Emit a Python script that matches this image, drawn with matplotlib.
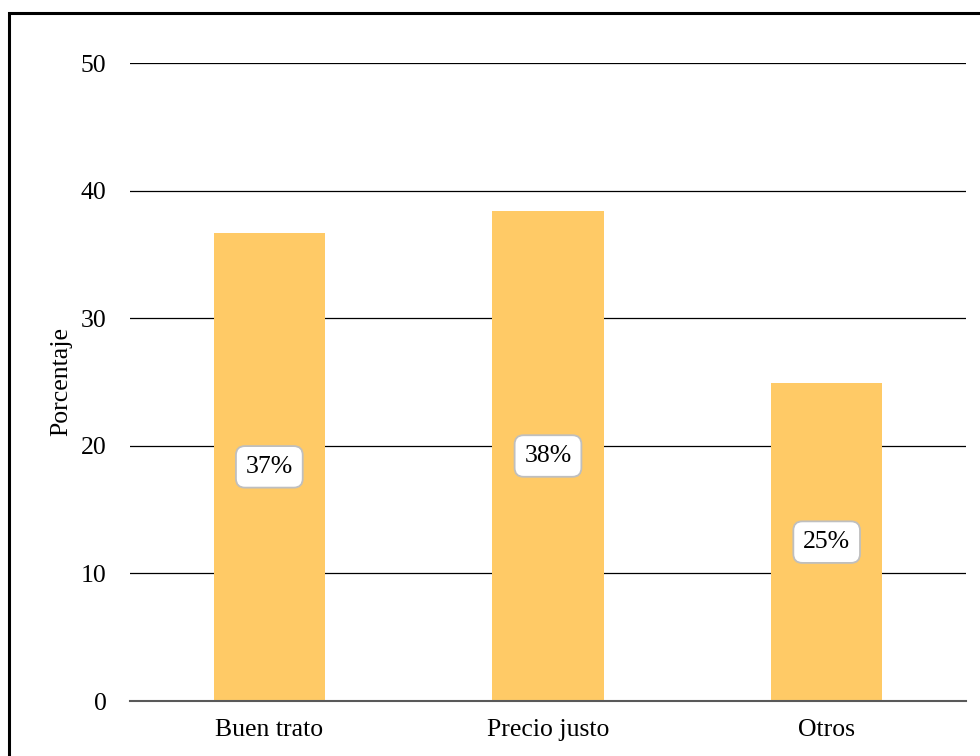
import matplotlib
matplotlib.use("Agg")
import matplotlib.pyplot as plt
from matplotlib.patches import Rectangle

plt.rcParams["font.family"] = ["Liberation Serif", "DejaVu Serif"]
plt.rcParams["font.size"] = 18.5

categorias = ["Buen trato", "Precio justo", "Otros"]
porcentajes = [36.7, 38.4, 24.9]
yticks = [0, 10, 20, 30, 40, 50]

fig = plt.figure(figsize=(9.8, 7.56), dpi=100)
ax = fig.add_axes([130 / 980, 1 - 701 / 756, 836 / 980, 638 / 756])

x = range(len(categorias))
bars = ax.bar(x, porcentajes, width=0.4, color="#FFCA66", zorder=2)

for xi, v in zip(x, porcentajes):
    ax.text(xi, v / 2, f"{v:.0f}%", ha="center", va="center", fontsize=18.5,
            zorder=3,
            bbox=dict(boxstyle="round,pad=0.38,rounding_size=0.35",
                      fc="white", ec="#BFBFBF", lw=1.3))

ax.set_xlim(-0.5, 2.5)
ax.set_ylim(0, 50)
ax.set_yticks(yticks)
ax.set_xticks(list(x))
ax.set_xticklabels(categorias)
ax.tick_params(length=0, pad=13)
ax.tick_params(axis="y", pad=17)
ax.yaxis.grid(True, color="black", lw=0.9, zorder=1)
ax.set_axisbelow(True)
for s in ["top", "right", "left"]:
    ax.spines[s].set_visible(False)
ax.spines["bottom"].set_color("#595959")
ax.spines["bottom"].set_linewidth(1.5)
ax.spines["bottom"].set_zorder(4)
ax.set_ylabel("Porcentaje", labelpad=6)

# frame around the chart area
fig.patches.append(Rectangle((9 / 980, -0.05), 1.1, 1 - 13 / 756 + 0.05,
                             transform=fig.transFigure, fill=False,
                             ec="black", lw=2.2))

fig.savefig("out.png", dpi=100, facecolor="white")
